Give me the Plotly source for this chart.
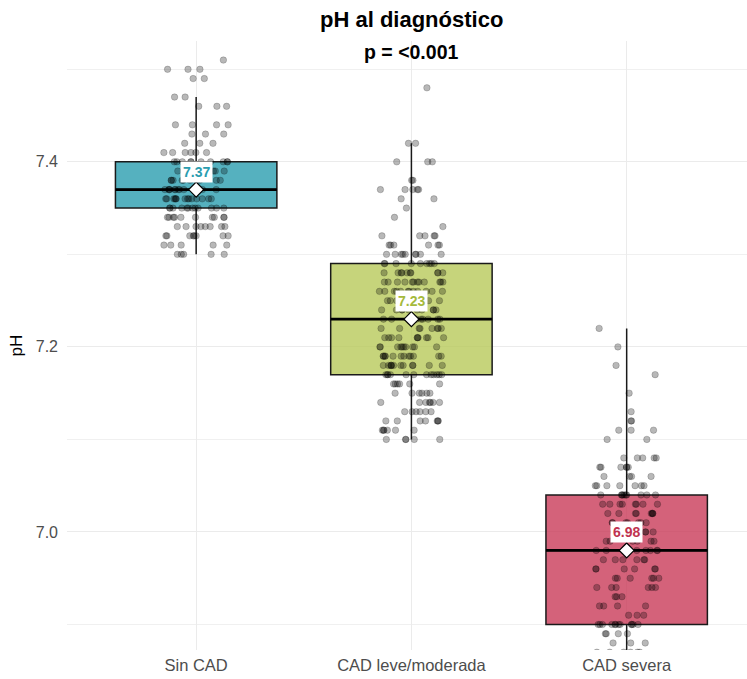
import math
import plotly.graph_objects as go

# ---------------- data ----------------
categories = ["Sin CAD", "CAD leve/moderada", "CAD severa"]

# box statistics
q1_vals = [7.35, 7.17, 6.90]
median_vals = [7.37, 7.23, 6.98]
q3_vals = [7.40, 7.29, 7.04]
lower_whisker = [7.30, 7.10, 6.80]
upper_whisker = [7.47, 7.42, 7.22]
mean_vals = [7.37, 7.23, 6.98]
mean_labels = ["7.37", "7.23", "6.98"]

# individual observations (pH value and how many patients at that value)
sin_ph = [7.51, 7.50, 7.49, 7.47, 7.46, 7.44, 7.43, 7.42, 7.41, 7.40, 7.39, 7.38, 7.37,
          7.36, 7.35, 7.34, 7.33, 7.32, 7.31, 7.30]
sin_n = [1, 3, 2, 2, 3, 4, 3, 3, 6, 10, 8, 10, 12, 14, 12, 10, 8, 8, 5, 5]

leve_ph = [7.48, 7.42, 7.40, 7.38, 7.37, 7.36, 7.35, 7.34, 7.33, 7.32, 7.31, 7.30, 7.29,
           7.28, 7.27, 7.26, 7.25, 7.24, 7.23, 7.22, 7.21, 7.20, 7.19, 7.18, 7.17, 7.16,
           7.15, 7.14, 7.13, 7.12, 7.11, 7.10]
leve_n = [1, 2, 3, 2, 5, 2, 1, 1, 1, 5, 6, 9, 9, 10, 12, 12, 12, 10, 9, 8, 10, 10, 12, 12,
          12, 6, 6, 7, 6, 7, 6, 5]

sev_ph = [7.22, 7.20, 7.18, 7.17, 7.15, 7.13, 7.12, 7.11, 7.10, 7.08, 7.07, 7.06, 7.05,
          7.04, 7.03, 7.02, 7.01, 7.00, 6.99, 6.98, 6.97, 6.96, 6.95, 6.94, 6.93, 6.92,
          6.91, 6.90, 6.89, 6.88, 6.87, 6.86]
sev_n = [1, 1, 1, 1, 1, 1, 2, 3, 2, 5, 6, 4, 7, 10, 8, 8, 7, 6, 6, 8, 6, 6, 6, 6, 3, 4,
         3, 12, 4, 3, 6, 5]

# ---------------- styles ----------------
fill_colors = ["rgba(42,157,175,0.8)", "rgba(184,201,90,0.8)", "rgba(201,59,89,0.8)"]
label_colors = ["#2A9DAF", "#A5BA3C", "#C0334F"]
FONT = "Liberation Sans, Arial, Helvetica, sans-serif"
BOX_W = 0.75
JIT = 0.15

fig = go.Figure()

for i in range(3):
    fig.add_trace(go.Box(
        x=[i], q1=[q1_vals[i]], median=[median_vals[i]], q3=[q3_vals[i]],
        lowerfence=[lower_whisker[i]], upperfence=[upper_whisker[i]],
        width=BOX_W, fillcolor=fill_colors[i],
        line=dict(color="#1a1a1a", width=1.5), whiskerwidth=0,
        boxpoints=False, hoverinfo="skip", showlegend=False))
    # thicker median bar like ggplot
    fig.add_trace(go.Scatter(
        x=[i - BOX_W / 2, i + BOX_W / 2], y=[median_vals[i], median_vals[i]],
        mode="lines", line=dict(color="black", width=2.8),
        hoverinfo="skip", showlegend=False))

groups = [(sin_ph, sin_n), (leve_ph, leve_n), (sev_ph, sev_n)]
for i, (vals, counts) in enumerate(groups):
    xs, ys = [], []
    k = 0
    for v, c in zip(vals, counts):
        for _ in range(c):
            k += 1
            # deterministic horizontal jitter (position only)
            s = math.sin(k * 12.9898 + i * 78.233) * 43758.5453
            h = s - math.floor(s)
            xs.append(i + (h - 0.5) * 2 * JIT)
            ys.append(v)
    fig.add_trace(go.Scatter(
        x=xs, y=ys, mode="markers",
        marker=dict(size=6.5, color="rgba(0,0,0,0.28)",
                    line=dict(width=0.6, color="rgba(0,0,0,0.3)")),
        hoverinfo="skip", showlegend=False))

fig.add_trace(go.Scatter(
    x=[0, 1, 2], y=mean_vals, mode="markers",
    marker=dict(symbol="diamond", size=11.5, color="white",
                line=dict(width=1.2, color="black")),
    hoverinfo="skip", showlegend=False))

for i in range(3):
    fig.add_annotation(
        x=i, y=mean_vals[i], xref="x", yref="y", yshift=18,
        text="<b>" + mean_labels[i] + "</b>", showarrow=False,
        font=dict(family=FONT, size=14, color=label_colors[i]),
        bgcolor="white", borderpad=2)

# title / subtitle
fig.add_annotation(x=0.506, y=1.036, xref="paper", yref="paper",
                   text="<b>pH al diagnóstico</b>", showarrow=False,
                   font=dict(family=FONT, size=22, color="black"),
                   xanchor="center", yanchor="middle")
fig.add_annotation(x=0.506, y=0.982, xref="paper", yref="paper",
                   text="<b>p = <0.001</b>", showarrow=False,
                   font=dict(family=FONT, size=19.5, color="black"),
                   xanchor="center", yanchor="middle")

fig.update_layout(
    width=747, height=679,
    margin=dict(l=67, r=0, t=41, b=29),
    paper_bgcolor="white", plot_bgcolor="white",
    boxmode="overlay",
    font=dict(family=FONT),
    xaxis=dict(range=[-0.6, 2.559], tickvals=[0, 1, 2], ticktext=categories,
               showgrid=True, gridcolor="#EBEBEB", gridwidth=1.1,
               zeroline=False, showline=False, ticks="",
               tickfont=dict(size=16.5, color="#4D4D4D"),
               ticklabelstandoff=3),
    yaxis=dict(range=[6.8724, 7.5306], tick0=7.0, dtick=0.2, tickformat=".1f",
               showgrid=True, gridcolor="#EBEBEB", gridwidth=1.1,
               minor=dict(showgrid=True, dtick=0.1, gridcolor="#F0F0F0", gridwidth=0.8),
               zeroline=False, showline=False, ticks="",
               tickfont=dict(size=16, color="#4D4D4D"),
               ticklabelstandoff=8,
               title=dict(text="pH", font=dict(size=17, color="black"), standoff=8)),
)

fig.write_html("out.html", config={"displayModeBar": False},
               post_script="document.body.style.margin='0';document.body.style.padding='0';")
